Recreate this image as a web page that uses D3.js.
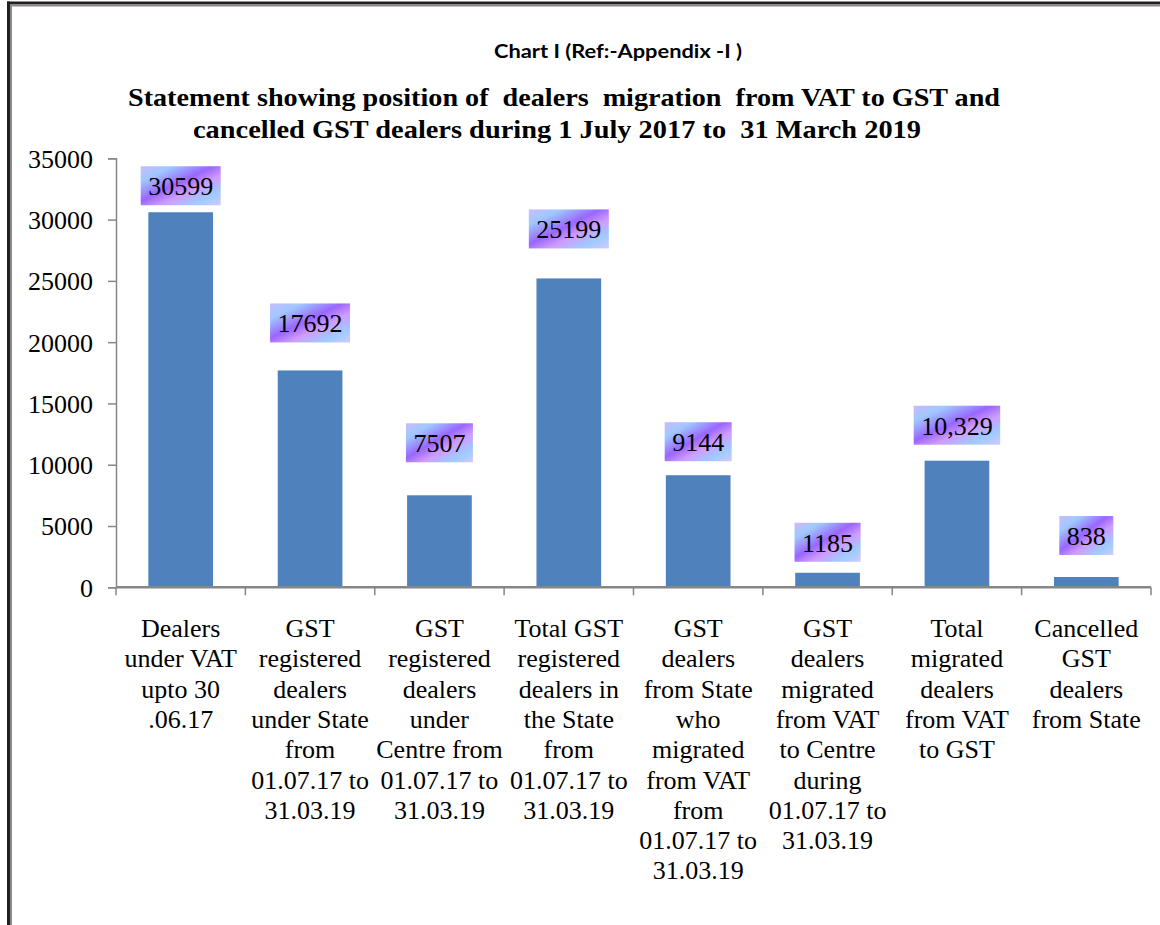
<!DOCTYPE html>
<html>
<head>
<meta charset="utf-8">
<script src="https://cdn.jsdelivr.net/npm/d3@7"></script>
<style>
  html, body { margin: 0; padding: 0; background: #ffffff; }
  svg { display: block; }
</style>
</head>
<body>
<svg id="chart" width="1160" height="925"></svg>
<script>
// ---- data ----
const categories = [
  ["Dealers", "under VAT", "upto 30", ".06.17"],
  ["GST", "registered", "dealers", "under State", "from", "01.07.17 to", "31.03.19"],
  ["GST", "registered", "dealers", "under", "Centre from", "01.07.17 to", "31.03.19"],
  ["Total GST", "registered", "dealers in", "the State", "from", "01.07.17 to", "31.03.19"],
  ["GST", "dealers", "from State", "who", "migrated", "from VAT", "from", "01.07.17 to", "31.03.19"],
  ["GST", "dealers", "migrated", "from VAT", "to Centre", "during", "01.07.17 to", "31.03.19"],
  ["Total", "migrated", "dealers", "from VAT", "to GST"],
  ["Cancelled", "GST", "dealers", "from State"]
];
const values = [30599, 17692, 7507, 25199, 9144, 1185, 10329, 838];
const valueLabels = ["30599", "17692", "7507", "25199", "9144", "1185", "10,329", "838"];
const yTicks = [0, 5000, 10000, 15000, 20000, 25000, 30000, 35000];
const chartTitle = "Chart I (Ref:-Appendix -I )";
const mainTitle = [
  "Statement showing position of  dealers  migration  from VAT to GST and",
  "cancelled GST dealers during 1 July 2017 to  31 March 2019"
];
// layout: gap (px) between each value box and its bar top, as placed in the reference
const labelGaps = [7, 28, 33, 30, 14, 11, 16, 22];

// ---- drawing ----
const svg = d3.select("#chart");
const plot = { left: 116, right: 1151, top: 158.3, bottom: 587.3 };

const x = d3.scaleBand()
  .domain(d3.range(categories.length))
  .range([plot.left, plot.right])
  .paddingInner(0.5)
  .paddingOuter(0.25);

const y = d3.scaleLinear()
  .domain([0, 35000])
  .range([plot.bottom, plot.top]);

// frame
svg.append("line").attr("x1", 7).attr("x2", 1160).attr("y1", 3).attr("y2", 3)
  .attr("stroke", "#231f20").attr("stroke-width", 3);
svg.append("line").attr("x1", 10).attr("x2", 1160).attr("y1", 5.5).attr("y2", 5.5)
  .attr("stroke", "#8a8a8a").attr("stroke-width", 2);
svg.append("line").attr("x1", 8.5).attr("x2", 8.5).attr("y1", 1.5).attr("y2", 925)
  .attr("stroke", "#231f20").attr("stroke-width", 3);
svg.append("line").attr("x1", 11).attr("x2", 11).attr("y1", 4).attr("y2", 925)
  .attr("stroke", "#8a8a8a").attr("stroke-width", 2);

// titles
svg.append("text")
  .attr("x", 618).attr("y", 58)
  .attr("text-anchor", "middle")
  .attr("font-family", "Lato, 'Open Sans', sans-serif")
  .attr("font-weight", "bold")
  .attr("font-size", 19)
  .attr("textLength", 248)
  .attr("lengthAdjust", "spacingAndGlyphs")
  .attr("fill", "#000")
  .text(chartTitle);

const titleWidths = [872, 728];
const titleX = [128, 193];
mainTitle.forEach((t, i) => {
  svg.append("text")
    .attr("x", titleX[i]).attr("y", 106 + i * 32)
    .attr("font-family", "'Liberation Serif', 'DejaVu Serif', serif")
    .attr("font-weight", "bold")
    .attr("font-size", 26)
    .attr("textLength", titleWidths[i])
    .attr("lengthAdjust", "spacingAndGlyphs")
    .attr("fill", "#000")
    .style("white-space", "pre")
    .text(t);
});

// y axis
const yAxis = d3.axisLeft(y).tickValues(yTicks).tickSize(8).tickPadding(15).tickFormat(d3.format("d"));
const yg = svg.append("g").attr("transform", `translate(${plot.left},0)`).call(yAxis);
yg.select(".domain").attr("stroke", "#868686").attr("stroke-width", 1.5);
yg.selectAll(".tick line").attr("stroke", "#868686").attr("stroke-width", 1.5);
yg.selectAll(".tick text")
  .attr("font-family", "'Liberation Serif', 'Times New Roman', serif")
  .attr("font-size", 26)
  .attr("fill", "#000")
  .attr("dy", "0.34em");

// bars
svg.append("g").selectAll("rect.bar")
  .data(values)
  .join("rect")
  .attr("class", "bar")
  .attr("x", (d, i) => x(i))
  .attr("width", x.bandwidth())
  .attr("y", d => y(d))
  .attr("height", d => y(0) - y(d))
  .attr("fill", "#4f81bd");

// x axis line and ticks
const step = x.step();
const xg = svg.append("g");
xg.append("line")
  .attr("x1", plot.left).attr("x2", plot.right)
  .attr("y1", y(0)).attr("y2", y(0))
  .attr("stroke", "#868686").attr("stroke-width", 2.5);
xg.selectAll("line.xt")
  .data(d3.range(categories.length + 1))
  .join("line")
  .attr("class", "xt")
  .attr("x1", i => plot.left + i * step).attr("x2", i => plot.left + i * step)
  .attr("y1", y(0)).attr("y2", y(0) + 8)
  .attr("stroke", "#868686").attr("stroke-width", 1.5);

// category labels
const catG = svg.append("g");
categories.forEach((lines, i) => {
  const cx = x(i) + x.bandwidth() / 2;
  const t = catG.append("text")
    .attr("text-anchor", "middle")
    .attr("font-family", "'Liberation Serif', 'Times New Roman', serif")
    .attr("font-size", 26)
    .attr("fill", "#000");
  lines.forEach((ln, j) => {
    t.append("tspan").attr("x", cx).attr("y", 637 + j * 30.3).text(ln);
  });
});

// gradient for value boxes
const defs = svg.append("defs");
const grad = defs.append("linearGradient")
  .attr("id", "boxGrad")
  .attr("x1", 0).attr("y1", 0).attr("x2", 1).attr("y2", 1);
[[0, "#c9bcff"], [0.2, "#9fc8ff"], [0.45, "#9a66ff"], [0.62, "#cf9cff"], [0.82, "#9fcbff"], [1, "#cfcaff"]]
  .forEach(([o, c]) => grad.append("stop").attr("offset", o).attr("stop-color", c));

// value labels
const lblG = svg.append("g");
values.forEach((v, i) => {
  const cx = x(i) + x.bandwidth() / 2;
  const bottom = y(v) - labelGaps[i];
  const g = lblG.append("g");
  const rect = g.append("rect");
  const txt = g.append("text")
    .attr("x", cx)
    .attr("y", bottom - 10)
    .attr("text-anchor", "middle")
    .attr("font-family", "'Liberation Serif', 'Times New Roman', serif")
    .attr("font-size", 26)
    .attr("fill", "#000")
    .text(valueLabels[i]);
  const w = txt.node().getComputedTextLength() + 15;
  rect.attr("x", cx - w / 2).attr("y", bottom - 39)
    .attr("width", w).attr("height", 39)
    .attr("fill", "url(#boxGrad)");
});
</script>
</body>
</html>
